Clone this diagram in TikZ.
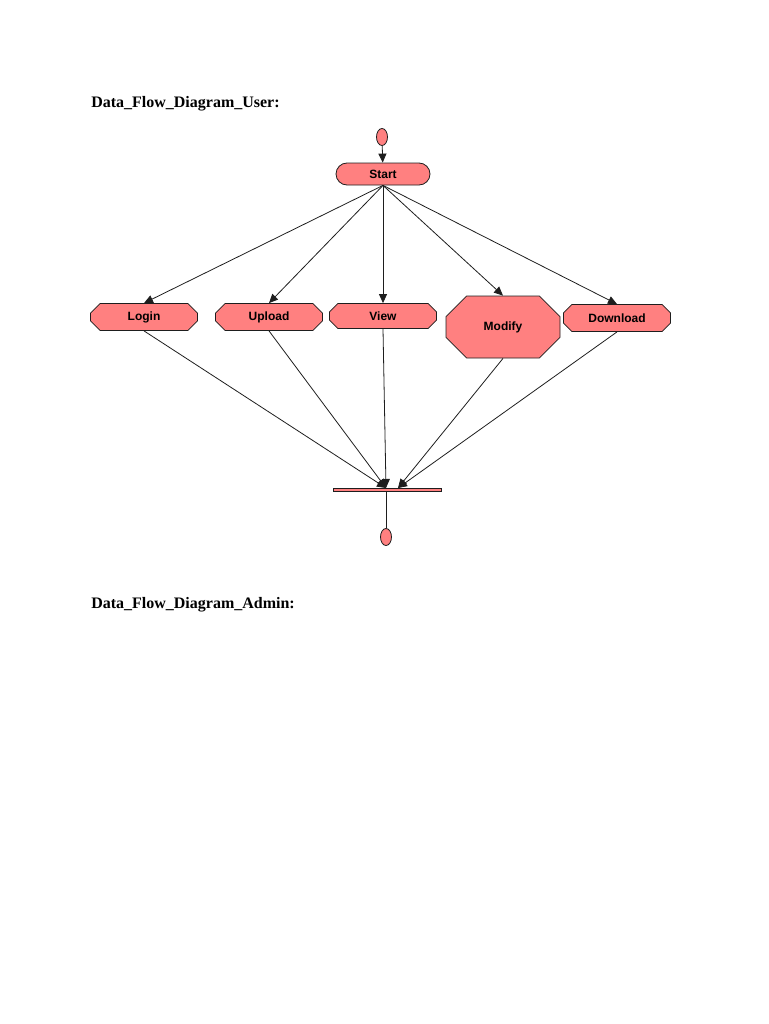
\documentclass[tikz,border=0pt]{standalone}
\usepackage{fontspec}
\setmainfont{Liberation Serif}
\setsansfont{Liberation Sans}
\usetikzlibrary{positioning, shapes.misc, shapes.geometric, arrows.meta}
\definecolor{actpink}{RGB}{255, 128, 128}
\definecolor{edgegray}{RGB}{30, 30, 30}

\begin{document}
\begin{tikzpicture}[x=0.75pt, y=-0.75pt, every node/.style={font=\sffamily\bfseries\fontsize{9}{10}\selectfont, text=black}]
    \tikzstyle{activity} = [draw=edgegray, fill=actpink, chamfered rectangle, chamfered rectangle xsep=6.75pt, chamfered rectangle ysep=3pt, minimum width=80.25pt, minimum height=20.25pt, inner sep=0pt, line width=0.6pt]
    \tikzstyle{terminal} = [draw=edgegray, fill=actpink, ellipse, minimum width=8.25pt, minimum height=12.75pt, inner sep=0pt, line width=0.6pt]
    \tikzstyle{heading} = [anchor=base west, font=\rmfamily\bfseries\fontsize{12}{14}\selectfont, inner sep=0pt]
    \tikzstyle{arrow} = [line width=0.6pt, draw=edgegray, -{Triangle[length=6.75pt, width=6pt]}]
    \tikzstyle{line} = [line width=0.6pt, draw=edgegray]

    \useasboundingbox (0,0) rectangle (768,1024);

    % Headings
    \node (hUser) [heading] at (91,108) {Data\_Flow\_Diagram\_User:};
    \node (hAdmin) [heading] at (91,608) {Data\_Flow\_Diagram\_Admin:};

    % User flow
    \node (init) [terminal] at (382,137) {};
    \node (start) [draw=edgegray, fill=actpink, rounded rectangle, minimum width=70.5pt, minimum height=16.5pt, inner sep=0pt, line width=0.6pt] at (383,174) {Start};
    \node (login) [activity] at (144,317) {Login};
    \node (upload) [activity] at (269,317) {Upload};
    \node (view) [activity, minimum height=18.75pt] at (383,316) {View};
    \node (modify) [activity, minimum width=85.5pt, minimum height=46.5pt, chamfered rectangle xsep=9pt, chamfered rectangle ysep=11.25pt] at (503,327) {Modify};
    \node (download) [activity] at (617,318) {Download};
    \node (join) [draw=edgegray, fill=actpink, rectangle, minimum width=81pt, minimum height=2.25pt, inner sep=0pt, line width=0.6pt] at (387,489.5) {};
    \node (final) [terminal] at (386,537) {};
    \coordinate (joinL) at (386,488);
    \coordinate (joinR) at (398,488);

    % Arrows
    \draw [arrow] (init) -- (start);
    \draw [arrow] (start.south) -- (login.north);
    \draw [arrow] (start.south) -- (upload.north);
    \draw [arrow] (start.south) -- (view.north);
    \draw [arrow] (start.south) -- (modify.north);
    \draw [arrow] (start.south) -- (download.north);
    \draw [arrow] (login.south) -- (joinL);
    \draw [arrow] (upload.south) -- (joinL);
    \draw [arrow] (view.south) -- (joinL);
    \draw [arrow] (modify.south) -- (joinR);
    \draw [arrow] (download.south) -- (joinR);
    \draw [line] (joinL |- join.south) -- (final);
\end{tikzpicture}
\end{document}
